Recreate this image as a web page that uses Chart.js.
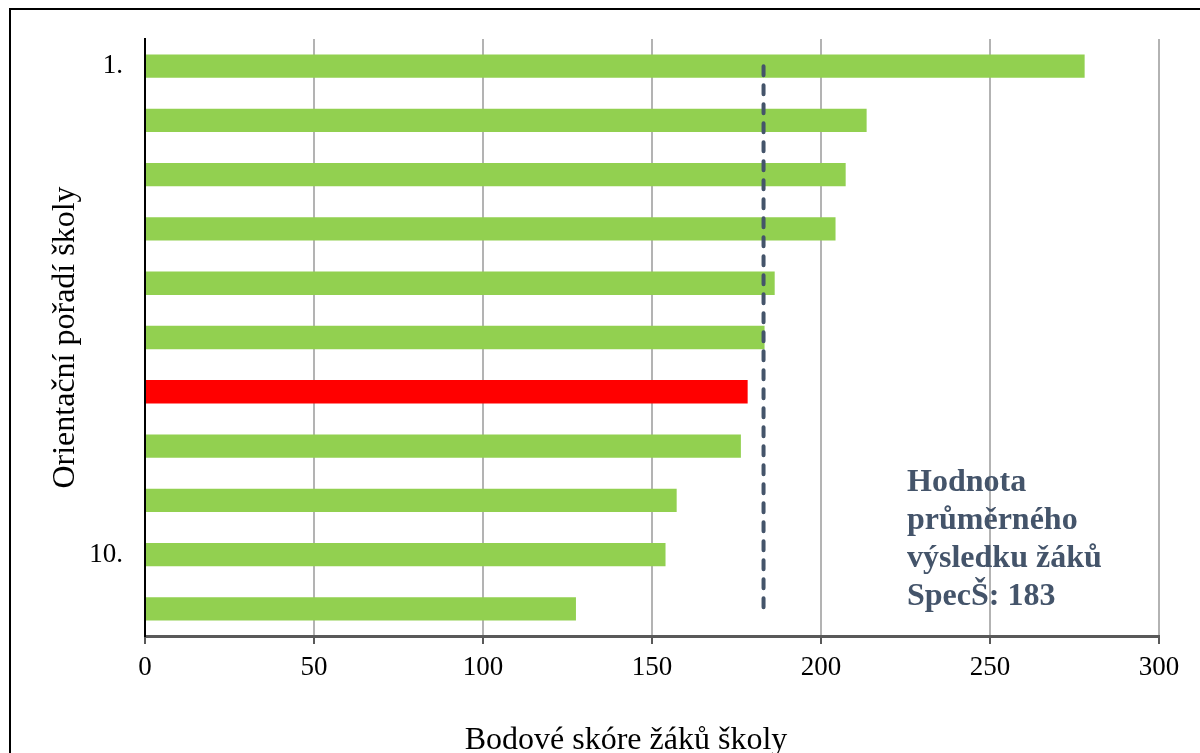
<!DOCTYPE html>
<html>
<head>
<meta charset="utf-8">
<script src="https://cdn.jsdelivr.net/npm/chart.js@4"></script>
<style>
  html, body { margin: 0; padding: 0; background: #fff; overflow: hidden; }
  #wrap { position: relative; width: 1200px; height: 753px; }
  #frame { position: absolute; left: 9px; top: 8px; width: 1300px; height: 900px; border: 2px solid #000; box-sizing: border-box; pointer-events: none; }
  canvas { position: absolute; left: 0; top: 0; }
</style>
</head>
<body>
<div id="wrap">
  <canvas id="chart" width="1200" height="753"></canvas>
  <div id="frame"></div>
</div>
<script>
const categories = ["1.", "2.", "3.", "4.", "5.", "6.", "7.", "8.", "9.", "10.", "11."];
const shownLabels = ["1.", "", "", "", "", "", "", "", "", "10.", ""];
const scores = [278, 213.5, 207.3, 204.3, 186.3, 183.3, 178.3, 176.3, 157.3, 154, 127.5];
const highlighted = [false, false, false, false, false, false, true, false, false, false, false];
const averageValue = 183;
const averageFrom = "1.";
const averageTo = "11.";
const noteLines = ["Hodnota", "průměrného", "výsledku žáků", "SpecŠ: 183"];
const xTitle = "Bodové skóre žáků školy";

const serif = "'Liberation Serif', 'Times New Roman', serif";

// note beside the average line + x title (sits a bit left of plot centre in the original)
const notePlugin = {
  id: "note",
  afterDraw(chart) {
    const ctx = chart.ctx;
    ctx.save();
    ctx.font = "bold 32px " + serif;
    ctx.fillStyle = "#44546A";
    ctx.textBaseline = "middle";
    ctx.textAlign = "left";
    noteLines.forEach((line, i) => {
      ctx.fillText(line, 907, 483 + i * 38);
    });
    ctx.font = "32px " + serif;
    ctx.fillStyle = "#000";
    ctx.textAlign = "center";
    ctx.textBaseline = "alphabetic";
    ctx.fillText(xTitle, 626, 749);
    ctx.restore();
  },
};

new Chart(document.getElementById("chart"), {
  type: "bar",
  data: {
    labels: categories,
    datasets: [
      {
        type: "line",
        data: [
          { x: averageValue, y: averageFrom },
          { x: averageValue, y: averageTo },
        ],
        borderColor: "#44546A",
        borderWidth: 4,
        borderDash: [9, 10],
        borderCapStyle: "round",
        pointRadius: 0,
        fill: false,
        order: 0,
      },
      {
        data: scores,
        backgroundColor: highlighted.map((h) => (h ? "#FF0000" : "#92D050")),
        barPercentage: 0.43,
        categoryPercentage: 1,
        order: 1,
      },
    ],
  },
  options: {
    indexAxis: "y",
    responsive: false,
    animation: false,
    layout: { padding: { top: 39, right: 41, left: 0, bottom: 0 } },
    plugins: {
      legend: { display: false },
      tooltip: { enabled: false },
    },
    scales: {
      x: {
        min: 0,
        max: 300,
        ticks: {
          stepSize: 50,
          color: "#000",
          font: { family: serif, size: 27 },
          padding: 8,
        },
        grid: {
          color: "#B3B3B3",
          lineWidth: 2,
          tickColor: "#595959",
          tickLength: 8,
        },
        border: { color: "#595959", width: 3 },
        afterFit(scale) {
          scale.height = 117;
        },
      },
      y: {
        ticks: {
          color: "#000",
          font: { family: serif, size: 27 },
          padding: 22,
          callback: (value, index) => shownLabels[index],
        },
        grid: { display: false, drawTicks: false },
        border: { color: "#000", width: 2 },
        title: {
          display: true,
          text: "Orientační pořadí školy",
          color: "#000",
          font: { family: serif, size: 32, lineHeight: 1.2 },
          padding: { top: 46, bottom: 0 },
        },
        afterFit(scale) {
          scale.width = 145;
        },
      },
    },
  },
  plugins: [notePlugin],
});
</script>
</body>
</html>
